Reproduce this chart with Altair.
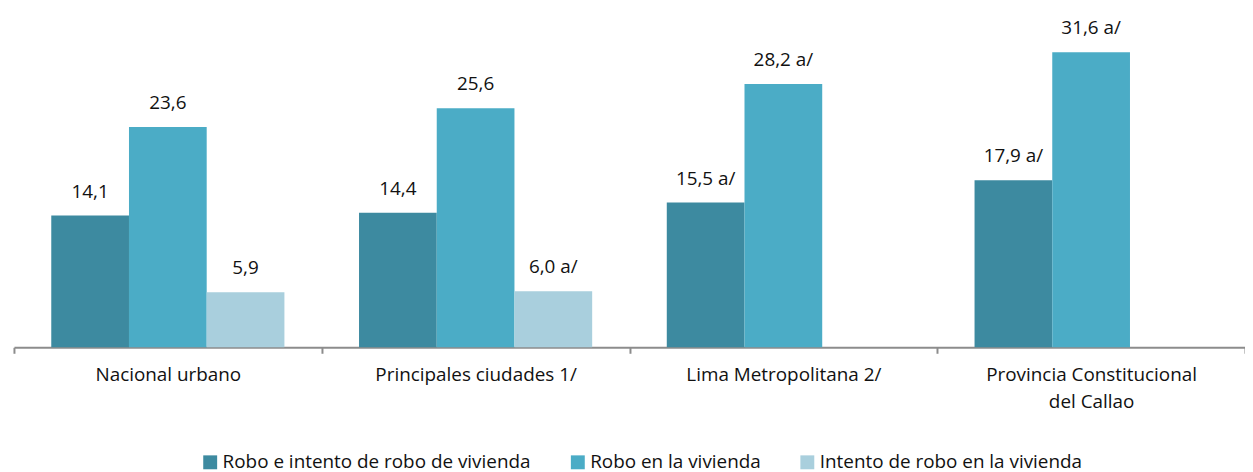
import altair as alt
import pandas as pd

categories = ["Nacional urbano", "Principales ciudades 1/", "Lima Metropolitana 2/",
              "Provincia Constitucional|del Callao"]
series = ["Robo e intento de robo de vivienda", "Robo en la vivienda", "Intento de robo en la vivienda"]
robo_intento = [14.1, 14.4, 15.5, 17.9]
robo = [23.6, 25.6, 28.2, 31.6]
intento = [5.9, 6.0, None, None]
notes_robo_intento = ["", "", " a/", " a/"]
notes_robo = ["", "", " a/", " a/"]
notes_intento = ["", " a/", "", ""]
colors = ["#3D8AA0", "#4BACC6", "#A9CFDD"]

rows = []
for vals, notes, s in [(robo_intento, notes_robo_intento, series[0]),
                       (robo, notes_robo, series[1]),
                       (intento, notes_intento, series[2])]:
    for c, v, n in zip(categories, vals, notes):
        if v is None:
            continue
        rows.append({"cat": c, "serie": s, "val": v,
                     "label": f"{v:.1f}".replace(".", ",") + n})
df = pd.DataFrame(rows)

FONT = "Open Sans"

base = alt.Chart(df).encode(
    x=alt.X("cat:N", sort=categories,
            scale=alt.Scale(paddingInner=0, paddingOuter=0, round=False),
            axis=alt.Axis(title=None, labelAngle=0, labelFont=FONT, labelFontSize=19,
                          labelColor="#111111", labelPadding=12, labelLineHeight=28,
                          labelLimit=0,
                          labelExpr="split(datum.label, '|')",
                          domainColor="#8c8c8c", domainWidth=2,
                          tickColor="#8c8c8c", tickWidth=2, tickSize=6,
                          tickBand="extent")),
    xOffset=alt.XOffset("serie:N", sort=series,
                        scale=alt.Scale(domain=series, paddingInner=0, paddingOuter=0.48,
                                        round=False)),
    y=alt.Y("val:Q", scale=alt.Scale(domain=[0, 36.17], nice=False), axis=None),
)

bars = base.mark_bar().encode(
    color=alt.Color("serie:N", sort=series,
                    scale=alt.Scale(domain=series, range=colors),
                    legend=alt.Legend(title=None, orient="none", direction="horizontal",
                                      legendX=188, legendY=446,
                                      symbolType="square", symbolSize=196,
                                      symbolStrokeWidth=0, symbolOpacity=1,
                                      labelFont=FONT, labelFontSize=19,
                                      labelColor="#111111", labelOffset=3,
                                      labelLimit=0, columnPadding=37))
)

text = base.mark_text(dy=-18, baseline="alphabetic", font=FONT, fontSize=19,
                      color="#111111").encode(text="label:N")

chart = (bars + text).properties(
    width=1239, height=340,
    autosize=alt.AutoSizeParams(type="none"),
    padding={"left": 6, "top": 0, "right": 0, "bottom": 126},
).configure_view(stroke=None)

chart.save("out.html", embed_options={"renderer": "svg", "actions": False})
